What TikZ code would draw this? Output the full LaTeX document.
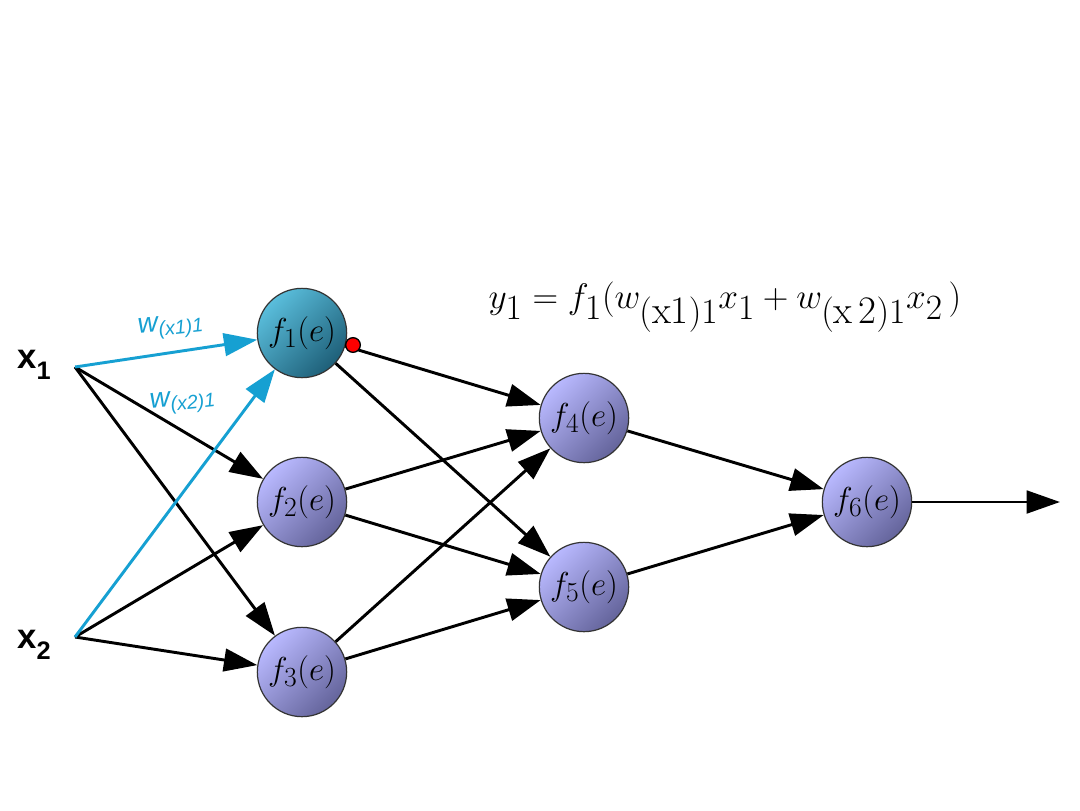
\documentclass[tikz,border=0pt]{standalone}
\usepackage{fontspec}
\newfontfamily\lsans{Liberation Sans}
\usetikzlibrary{arrows.meta}
\definecolor{wblue}{RGB}{22,160,210}
\definecolor{tealL}{RGB}{90,190,220}
\definecolor{tealD}{RGB}{30,95,120}
\definecolor{lavL}{RGB}{185,185,255}
\definecolor{lavD}{RGB}{100,100,155}
\tikzset{
  neuron/.style={circle, minimum size=67pt, inner sep=0pt, draw=black!80, line width=0.9pt,
     top color=lavL, bottom color=lavD, shading angle=45, font=\fontsize{30}{30}\selectfont},
  firstneuron/.style={neuron, top color=tealL, bottom color=tealD, shading angle=45},
  arr/.style={line width=2.2pt, -{Triangle[length=25pt,width=17pt]}},
  barr/.style={arr, draw=wblue, color=wblue},
  inlab/.style={font=\lsans\bfseries\fontsize{26}{26}\selectfont},
  wlab/.style={font=\lsans\itshape\fontsize{21}{21}\selectfont, text=wblue, rotate=6}
}
\begin{document}
\begin{tikzpicture}[x=0.75pt,y=-0.75pt]
\useasboundingbox (0,0) rectangle (1080,810);
\node[firstneuron] (f1) at (302,333) {$f_{1}(e)$};
\node[neuron] (f2) at (302,502) {$f_{2}(e)$};
\node[neuron] (f3) at (302,672) {$f_{3}(e)$};
\node[neuron] (f4) at (584,418) {$f_{4}(e)$};
\node[neuron] (f5) at (584,587) {$f_{5}(e)$};
\node[neuron] (f6) at (867,502) {$f_{6}(e)$};
\coordinate (s1) at (75,367);
\coordinate (s2) at (75,637);
\coordinate (out) at (1060,502);
\node[inlab] (x1) at (34,365) {x\raisebox{-8pt}{\fontsize{19}{19}\selectfont 1}};
\node[inlab] (x2) at (34,645) {x\raisebox{-8pt}{\fontsize{19}{19}\selectfont 2}};
\node[wlab] (w1) at (171,327) {w\textsubscript{(x1)1}};
\node[wlab] (w2) at (183,402) {w\textsubscript{(x2)1}};
\node (eq) at (725,307) {\scalebox{1.07}{\fontsize{39}{39}\selectfont $y_1 = f_1(w_{(\mathrm{x1})1}x_1 + w_{(\mathrm{x\,2})1}x_2\,)$}};
\draw[arr] (s1) -- (f2);
\draw[arr] (s1) -- (f3);
\draw[arr] (s2) -- (f2);
\draw[arr] (s2) -- (f3);
\draw[barr] (s1) -- (f1);
\draw[barr] (s2) -- (f1);
\draw[arr] (f1) -- (f4);
\draw[arr] (f1) -- (f5);
\draw[arr] (f2) -- (f4);
\draw[arr] (f2) -- (f5);
\draw[arr] (f3) -- (f4);
\draw[arr] (f3) -- (f5);
\draw[arr] (f4) -- (f6);
\draw[arr] (f5) -- (f6);
\draw[arr] (f6) -- (out);
\node[circle, fill=red, draw=black, line width=1pt, minimum size=11pt, inner sep=0pt] (dot) at (353,345) {};
\end{tikzpicture}
\end{document}
